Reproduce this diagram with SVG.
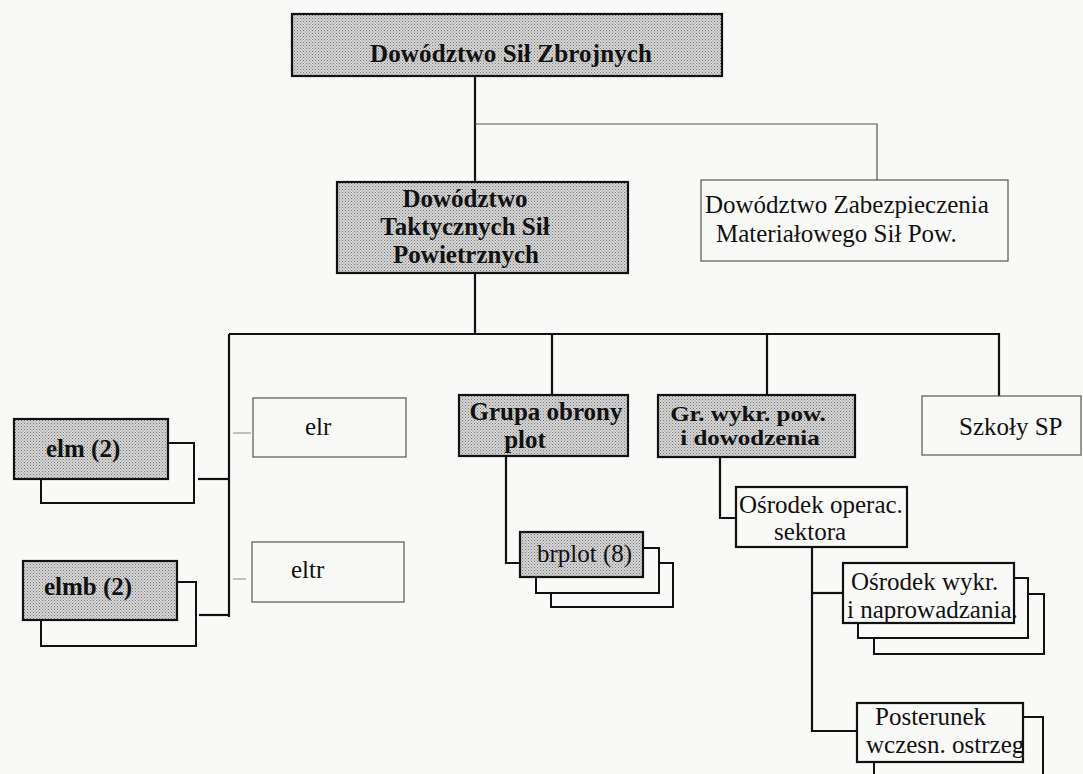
<svg xmlns="http://www.w3.org/2000/svg" width="1083" height="774" viewBox="0 0 1083 774">
  <defs>
    <!-- halftone grey used for the shaded command boxes -->
    <pattern id="dots" width="3" height="3" patternUnits="userSpaceOnUse">
      <rect width="3" height="3" fill="#d6d6d6"/>
      <rect x="0" y="0" width="1" height="1" fill="#777"/>
      <rect x="1.5" y="1.5" width="1" height="1" fill="#888"/>
    </pattern>
    <style>
      .shaded { fill: url(#dots); stroke: #111; stroke-width: 2.2; }
      .plain  { fill: #f9f9f7; stroke: #111; stroke-width: 2.2; }
      .thin   { fill: #f9f9f7; stroke: #555; stroke-width: 1.2; }
      .copy   { fill: #f9f9f7; stroke: #111; stroke-width: 2; }
      .b  { font-family: "Liberation Serif", serif; font-weight: bold; font-size: 25px; fill: #111; }
      .r  { font-family: "Liberation Serif", serif; font-size: 25px; fill: #111; }
      .link  { fill: none; stroke: #111; stroke-width: 2.2; }
      .link-thin { fill: none; stroke: #555; stroke-width: 1.2; }
      .link-faint { fill: none; stroke: #999; stroke-width: 1.2; }
    </style>
  </defs>

  <rect width="1083" height="774" fill="#f9f9f7"/>

  <g id="connectors">
    <!-- command chain -->
    <path class="link" d="M475 76 V182"/>
    <path class="link-thin" d="M475 124 H877 V180"/>
    <path class="link" d="M475 273 V334"/>
    <!-- main bus -->
    <path class="link" d="M229 334 H999 V396"/>
    <path class="link" d="M229 334 V617"/>
    <path class="link" d="M552 334 V395"/>
    <path class="link" d="M767 334 V395"/>
    <!-- left branches -->
    <path class="link" d="M198 479 H229"/>
    <path class="link" d="M199 615 H229"/>
    <path class="link-faint" d="M233 433 H251"/>
    <path class="link-faint" d="M233 579 H246"/>
    <!-- air defence group -->
    <path class="link" d="M506 456 V563 H520"/>
    <!-- detection and control group -->
    <path class="link" d="M720 457 V518 H736"/>
    <path class="link" d="M812 547 V731 H857"/>
    <path class="link" d="M812 593 H843"/>
  </g>

  <g id="node-dsz">
    <rect class="shaded" x="292" y="14" width="430" height="62"/>
    <text class="b" x="370" y="62" textLength="282" lengthAdjust="spacing">Dowództwo Sił Zbrojnych</text>
  </g>

  <g id="node-dtsp">
    <rect class="shaded" x="337" y="182" width="291" height="91"/>
    <text class="b" x="465" y="207" text-anchor="middle">Dowództwo</text>
    <text class="b" x="465" y="235" text-anchor="middle">Taktycznych Sił</text>
    <text class="b" x="466" y="263" text-anchor="middle">Powietrznych</text>
  </g>

  <g id="node-dzm">
    <rect class="thin" x="701" y="180" width="307" height="81"/>
    <text class="r" x="705" y="213">Dowództwo Zabezpieczenia</text>
    <text class="r" x="716" y="242">Materiałowego Sił Pow.</text>
  </g>

  <g id="node-elm">
    <rect class="copy" x="41" y="443" width="153" height="60"/>
    <rect class="shaded" x="14" y="419" width="154" height="60"/>
    <text class="b" x="46" y="457">elm (2)</text>
  </g>

  <g id="node-elmb">
    <rect class="copy" x="41" y="582" width="155" height="64"/>
    <rect class="shaded" x="23" y="561" width="154" height="59"/>
    <text class="b" x="44" y="595">elmb (2)</text>
  </g>

  <g id="node-elr">
    <rect class="thin" x="253" y="398" width="153" height="59"/>
    <text class="r" x="305" y="435">elr</text>
  </g>

  <g id="node-eltr">
    <rect class="thin" x="252" y="542" width="152" height="60"/>
    <text class="r" x="291" y="578">eltr</text>
  </g>

  <g id="node-gop">
    <rect class="shaded" x="459" y="395" width="169" height="61"/>
    <text class="b" x="546" y="420" text-anchor="middle">Grupa obrony</text>
    <text class="b" x="525" y="448" text-anchor="middle">plot</text>
  </g>

  <g id="node-brplot">
    <rect class="copy" x="551" y="563" width="122" height="44"/>
    <rect class="copy" x="536" y="548" width="123" height="45"/>
    <rect class="shaded" x="520" y="532" width="123" height="45"/>
    <text class="r" x="537" y="562">brplot (8)</text>
  </g>

  <g id="node-gwpd">
    <rect class="shaded" x="658" y="395" width="197" height="62"/>
    <g transform="translate(748 421) scale(1 0.8)">
      <text class="b" x="0" y="0" text-anchor="middle">Gr. wykr. pow.</text>
    </g>
    <g transform="translate(750 445) scale(1 0.8)">
      <text class="b" x="0" y="0" text-anchor="middle">i dowodzenia</text>
    </g>
  </g>

  <g id="node-szkoly">
    <rect class="thin" x="922" y="396" width="159" height="59"/>
    <text class="r" x="959" y="435">Szkoły SP</text>
  </g>

  <g id="node-os">
    <rect class="plain" x="736" y="487" width="171" height="60"/>
    <text class="r" x="739" y="513">Ośrodek operac.</text>
    <text class="r" x="774" y="540">sektora</text>
  </g>

  <g id="node-owin">
    <rect class="copy" x="874" y="594" width="170" height="60"/>
    <rect class="copy" x="858" y="578" width="170" height="60"/>
    <rect class="plain" x="843" y="563" width="171" height="60"/>
    <text class="r" x="851" y="590">Ośrodek wykr.</text>
    <text class="r" x="847" y="618">i naprowadzania.</text>
  </g>

  <g id="node-pwo">
    <rect class="copy" x="874" y="717" width="169" height="80"/>
    <rect class="plain" x="857" y="703" width="166" height="59"/>
    <text class="r" x="875" y="725">Posterunek</text>
    <text class="r" x="866" y="753">wczesn. ostrzeg</text>
  </g>
</svg>
